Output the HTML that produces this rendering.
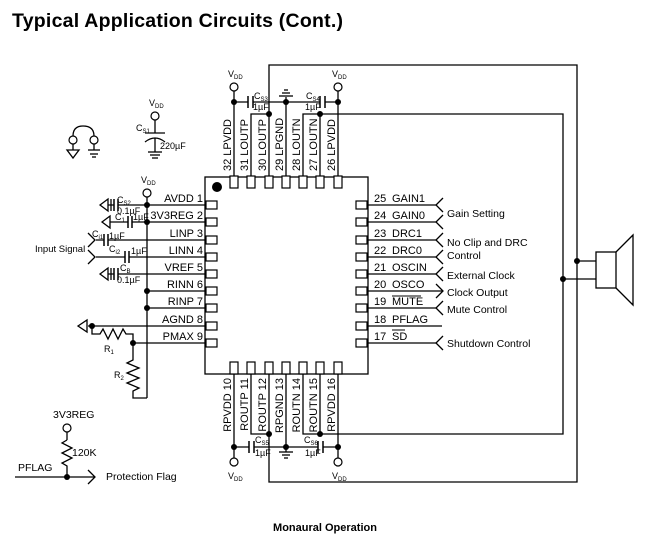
<!DOCTYPE html>
<html><head><meta charset="utf-8"><style>
html,body{margin:0;padding:0;background:#fff;}
svg{display:block;font-family:"Liberation Sans",Arial,sans-serif;}
</style></head><body>
<svg width="646" height="543" viewBox="0 0 646 543" xmlns="http://www.w3.org/2000/svg">
<text x="12" y="27" font-size="19.5" font-weight="bold" textLength="331">Typical Application Circuits (Cont.)</text>
<text x="325" y="531" font-size="11" font-weight="bold" text-anchor="middle">Monaural Operation</text>

<g stroke="#000" stroke-width="1.3" fill="none">
<rect x="205" y="177" width="163" height="197"/>
<line x1="234" y1="177" x2="234" y2="91"/>
<line x1="338" y1="177" x2="338" y2="91"/>
<line x1="286" y1="177" x2="286" y2="97"/>
<line x1="234" y1="102" x2="338" y2="102"/>
<polyline points="251,177 251,114 269,114"/>
<polyline points="269,177 269,65 577,65 577,482 269,482 269,374"/>
<polyline points="303,177 303,114 563,114 563,434 303,434 303,374"/>
<line x1="320" y1="177" x2="320" y2="114"/>
<line x1="234" y1="374" x2="234" y2="458"/>
<line x1="338" y1="374" x2="338" y2="458"/>
<line x1="286" y1="374" x2="286" y2="452"/>
<line x1="234" y1="447" x2="338" y2="447"/>
<polyline points="251,374 251,434 269,434"/>
<line x1="320" y1="374" x2="320" y2="434"/>
<line x1="577" y1="261" x2="596" y2="261"/>
<line x1="563" y1="279" x2="596" y2="279"/>
<rect x="596" y="252" width="20" height="36"/>
<polyline points="616,252 633,235 633,305 616,288"/>
<line x1="279" y1="96" x2="293" y2="96"/><line x1="282" y1="93" x2="290" y2="93"/><line x1="284" y1="90" x2="288" y2="90"/>
<line x1="279" y1="452" x2="293" y2="452"/><line x1="282" y1="455" x2="290" y2="455"/><line x1="284" y1="458" x2="288" y2="458"/>
<line x1="108" y1="205" x2="206" y2="205"/>
<line x1="110" y1="222" x2="206" y2="222"/>
<line x1="96" y1="240" x2="206" y2="240"/>
<line x1="96" y1="257" x2="206" y2="257"/>
<line x1="108" y1="274" x2="206" y2="274"/>
<line x1="147" y1="291" x2="206" y2="291"/>
<line x1="147" y1="308" x2="206" y2="308"/>
<line x1="88" y1="326" x2="206" y2="326"/>
<line x1="133" y1="343" x2="206" y2="343"/>
<line x1="147" y1="197" x2="147" y2="398"/>
<polyline points="133,343 133,360 127,363 139,368 127,373 139,378 127,383 139,388 133,391 133,398 147,398"/>
<polyline points="92,326 92,334 100,334 103,329 108,339 113,329 118,339 123,329 126,334 133,334 133,343"/>
<polygon points="100,205 108,199 108,211"/><line x1="111" y1="199" x2="111" y2="211"/>
<polygon points="102,222 110,216 110,228"/>
<polygon points="100,274 108,268 108,280"/><line x1="111" y1="268" x2="111" y2="280"/>
<polygon points="78,326 87,320 87,332"/>
<polyline points="88,233 95,240 88,247"/>
<polyline points="88,250 95,257 88,264"/>
<line x1="368" y1="205" x2="436" y2="205"/><polyline points="443,198 436,205 443,212"/>
<line x1="368" y1="222" x2="436" y2="222"/><polyline points="443,215 436,222 443,229"/>
<line x1="368" y1="240" x2="436" y2="240"/><polyline points="443,233 436,240 443,247"/>
<line x1="368" y1="257" x2="436" y2="257"/><polyline points="443,250 436,257 443,264"/>
<line x1="368" y1="274" x2="436" y2="274"/><polyline points="443,267 436,274 443,281"/>
<line x1="368" y1="291" x2="443" y2="291"/><polyline points="436,284 443,291 436,298"/>
<line x1="368" y1="308" x2="436" y2="308"/><polyline points="443,301 436,308 443,315"/>
<line x1="368" y1="326" x2="442" y2="326"/>
<line x1="368" y1="343" x2="436" y2="343"/><polyline points="443,336 436,343 443,350"/>
<line x1="392" y1="296" x2="421" y2="296" stroke-width="1"/>
<line x1="392" y1="330" x2="405" y2="330" stroke-width="1"/>
<path d="M73,136 Q73,126 83,126 Q94,126 94,136"/>
<line x1="73" y1="144" x2="73" y2="150"/><polygon points="67,150 79,150 73,158"/>
<line x1="94" y1="144" x2="94" y2="150"/><line x1="88" y1="150" x2="100" y2="150"/><line x1="90" y1="154" x2="98" y2="154"/><line x1="92" y1="157" x2="96" y2="157"/>
<line x1="155" y1="120" x2="155" y2="133"/><line x1="145" y1="133" x2="165" y2="133"/>
<path d="M145,142 Q155,134 165,142"/><line x1="155" y1="138" x2="155" y2="152"/>
<line x1="148" y1="152" x2="162" y2="152"/><line x1="150" y1="155" x2="160" y2="155"/><line x1="152" y1="158" x2="158" y2="158"/>
<line x1="67" y1="432" x2="67" y2="440"/>
<polyline points="67,440 62,443 72,448 62,453 72,458 62,463 67,466 67,477"/>
<line x1="15" y1="477" x2="95" y2="477"/><polyline points="88,470 95,477 88,484"/>
</g>

<g fill="#fff" stroke="none">
<rect x="248" y="96" width="5" height="12"/><rect x="320" y="96" width="5" height="12"/>
<rect x="249" y="441" width="5" height="12"/><rect x="318" y="441" width="5" height="12"/>
<rect x="114" y="199" width="4" height="12"/><rect x="128" y="216" width="4" height="12"/>
<rect x="104" y="234" width="4" height="12"/><rect x="125" y="251" width="4" height="12"/>
<rect x="114" y="268" width="4" height="12"/>
</g>
<g stroke="#000" stroke-width="1.5">
<line x1="248" y1="96" x2="248" y2="108"/><line x1="253" y1="96" x2="253" y2="108"/>
<line x1="320" y1="96" x2="320" y2="108"/><line x1="325" y1="96" x2="325" y2="108"/>
<line x1="249" y1="441" x2="249" y2="453"/><line x1="254" y1="441" x2="254" y2="453"/>
<line x1="318" y1="441" x2="318" y2="453"/><line x1="323" y1="441" x2="323" y2="453"/>
<line x1="114" y1="199" x2="114" y2="211"/><line x1="118" y1="199" x2="118" y2="211"/>
<line x1="128" y1="216" x2="128" y2="228"/><line x1="132" y1="216" x2="132" y2="228"/>
<line x1="104" y1="234" x2="104" y2="246"/><line x1="108" y1="234" x2="108" y2="246"/>
<line x1="125" y1="251" x2="125" y2="263"/><line x1="129" y1="251" x2="129" y2="263"/>
<line x1="114" y1="268" x2="114" y2="280"/><line x1="118" y1="268" x2="118" y2="280"/>
</g>

<g fill="#fff" stroke="#000" stroke-width="1.2">
<rect x="230" y="176" width="8" height="12"/><rect x="247" y="176" width="8" height="12"/><rect x="265" y="176" width="8" height="12"/><rect x="282" y="176" width="8" height="12"/><rect x="299" y="176" width="8" height="12"/><rect x="316" y="176" width="8" height="12"/><rect x="334" y="176" width="8" height="12"/>
<rect x="230" y="362" width="8" height="12"/><rect x="247" y="362" width="8" height="12"/><rect x="265" y="362" width="8" height="12"/><rect x="282" y="362" width="8" height="12"/><rect x="299" y="362" width="8" height="12"/><rect x="316" y="362" width="8" height="12"/><rect x="334" y="362" width="8" height="12"/>
<rect x="206" y="201" width="11" height="8"/><rect x="206" y="218" width="11" height="8"/><rect x="206" y="236" width="11" height="8"/><rect x="206" y="253" width="11" height="8"/><rect x="206" y="270" width="11" height="8"/><rect x="206" y="287" width="11" height="8"/><rect x="206" y="304" width="11" height="8"/><rect x="206" y="322" width="11" height="8"/><rect x="206" y="339" width="11" height="8"/>
<rect x="356" y="201" width="11" height="8"/><rect x="356" y="218" width="11" height="8"/><rect x="356" y="236" width="11" height="8"/><rect x="356" y="253" width="11" height="8"/><rect x="356" y="270" width="11" height="8"/><rect x="356" y="287" width="11" height="8"/><rect x="356" y="304" width="11" height="8"/><rect x="356" y="322" width="11" height="8"/><rect x="356" y="339" width="11" height="8"/>
<circle cx="234" cy="87" r="4"/><circle cx="338" cy="87" r="4"/>
<circle cx="234" cy="462" r="4"/><circle cx="338" cy="462" r="4"/>
<circle cx="147" cy="193" r="4"/><circle cx="155" cy="116" r="4"/>
<circle cx="73" cy="140" r="4"/><circle cx="94" cy="140" r="4"/>
<circle cx="67" cy="428" r="4"/>
</g>

<g fill="#000">
<circle cx="217" cy="187" r="5"/>
<circle cx="234" cy="102" r="3"/><circle cx="286" cy="102" r="3"/><circle cx="338" cy="102" r="3"/>
<circle cx="269" cy="114" r="3"/><circle cx="320" cy="114" r="3"/>
<circle cx="234" cy="447" r="3"/><circle cx="286" cy="447" r="3"/><circle cx="338" cy="447" r="3"/>
<circle cx="269" cy="434" r="3"/><circle cx="320" cy="434" r="3"/>
<circle cx="577" cy="261" r="3"/><circle cx="563" cy="279" r="3"/>
<circle cx="147" cy="205" r="3"/><circle cx="147" cy="222" r="3"/><circle cx="147" cy="291" r="3"/><circle cx="147" cy="308" r="3"/>
<circle cx="92" cy="326" r="3"/><circle cx="133" cy="343" r="3"/>
<circle cx="67" cy="477" r="3"/>
</g>

<g font-size="11" fill="#000">
<g text-anchor="end">
<text x="203" y="202">AVDD  1</text><text x="203" y="219">3V3REG  2</text><text x="203" y="237">LINP  3</text><text x="203" y="254">LINN  4</text><text x="203" y="271">VREF  5</text><text x="203" y="288">RINN  6</text><text x="203" y="305">RINP  7</text><text x="203" y="323">AGND  8</text><text x="203" y="340">PMAX  9</text>
</g>
<g>
<text x="374" y="202">25</text><text x="392" y="202">GAIN1</text>
<text x="374" y="219">24</text><text x="392" y="219">GAIN0</text>
<text x="374" y="237">23</text><text x="392" y="237">DRC1</text>
<text x="374" y="254">22</text><text x="392" y="254">DRC0</text>
<text x="374" y="271">21</text><text x="392" y="271">OSCIN</text>
<text x="374" y="288">20</text><text x="392" y="288">OSCO</text>
<text x="374" y="305">19</text><text x="392" y="305">MUTE</text>
<text x="374" y="323">18</text><text x="392" y="323">PFLAG</text>
<text x="374" y="340">17</text><text x="392" y="340">SD</text>
</g>
<g font-size="10.5">
<text x="447" y="217">Gain Setting</text>
<text x="447" y="246">No Clip and DRC</text><text x="447" y="259">Control</text>
<text x="447" y="279">External Clock</text>
<text x="447" y="296">Clock Output</text>
<text x="447" y="313">Mute Control</text>
<text x="447" y="347">Shutdown Control</text>
<text x="35" y="252" font-size="9.5">Input Signal</text>
<text x="106" y="480">Protection Flag</text>
<text x="53" y="418">3V3REG</text>
<text x="72" y="456">120K</text>
<text x="18" y="471">PFLAG</text>
</g>
<text transform="translate(231,171) rotate(-90)">32 LPVDD</text>
<text transform="translate(248,171) rotate(-90)">31 LOUTP</text>
<text transform="translate(266,171) rotate(-90)">30 LOUTP</text>
<text transform="translate(283,171) rotate(-90)">29 LPGND</text>
<text transform="translate(300,171) rotate(-90)">28 LOUTN</text>
<text transform="translate(317,171) rotate(-90)">27 LOUTN</text>
<text transform="translate(335,171) rotate(-90)">26 LPVDD</text>
<g text-anchor="end">
<text transform="translate(231,378) rotate(-90)">RPVDD 10</text>
<text transform="translate(248,378) rotate(-90)">ROUTP 11</text>
<text transform="translate(266,378) rotate(-90)">ROUTP 12</text>
<text transform="translate(283,378) rotate(-90)">RPGND 13</text>
<text transform="translate(300,378) rotate(-90)">ROUTN 14</text>
<text transform="translate(317,378) rotate(-90)">ROUTN 15</text>
<text transform="translate(335,378) rotate(-90)">RPVDD 16</text>
</g>
<g font-size="9">
<text x="228" y="77">V<tspan font-size="6" dy="2">DD</tspan></text>
<text x="332" y="77">V<tspan font-size="6" dy="2">DD</tspan></text>
<text x="228" y="479">V<tspan font-size="6" dy="2">DD</tspan></text>
<text x="332" y="479">V<tspan font-size="6" dy="2">DD</tspan></text>
<text x="141" y="183">V<tspan font-size="6" dy="2">DD</tspan></text>
<text x="149" y="106">V<tspan font-size="6" dy="2">DD</tspan></text>
<text x="254" y="99">C<tspan font-size="6" dy="2">S3</tspan></text><text x="253" y="110">1µF</text>
<text x="306" y="99">C<tspan font-size="6" dy="2">S4</tspan></text><text x="305" y="110">1µF</text>
<text x="255" y="443">C<tspan font-size="6" dy="2">S5</tspan></text><text x="255" y="456">1µF</text>
<text x="304" y="443">C<tspan font-size="6" dy="2">S6</tspan></text><text x="305" y="456">1µF</text>
<text x="136" y="131">C<tspan font-size="6" dy="2">S1</tspan></text><text x="160" y="149">220µF</text>
<text x="117" y="203">C<tspan font-size="6" dy="2">S2</tspan></text><text x="117" y="214">0.1µF</text>
<text x="115" y="220">C<tspan font-size="6" dy="2">1</tspan></text><text x="133" y="220">1µF</text>
<text x="92" y="237">C<tspan font-size="6" dy="2">i1</tspan></text><text x="109" y="239">1µF</text>
<text x="109" y="252">C<tspan font-size="6" dy="2">i2</tspan></text><text x="131" y="254">1µF</text>
<text x="120" y="271">C<tspan font-size="6" dy="2">B</tspan></text><text x="117" y="283">0.1µF</text>
<text x="104" y="352">R<tspan font-size="6" dy="2">1</tspan></text>
<text x="114" y="378">R<tspan font-size="6" dy="2">2</tspan></text>
</g>
</g>
</svg>
</body></html>
